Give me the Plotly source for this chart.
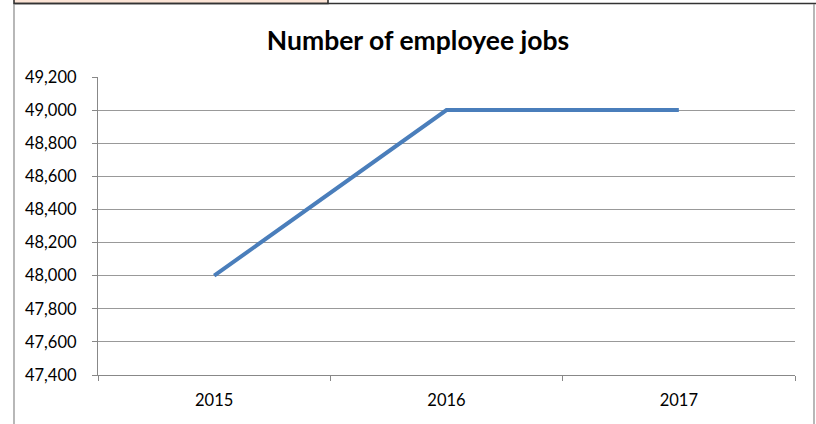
import plotly.graph_objects as go

years = ["2015", "2016", "2017"]
jobs = [48000, 49000, 49000]
y_ticks = list(range(47400, 49201, 200))

W, H = 816, 424
L, R, T, B = 98, 795, 77, 375.5


def px(x):
    # pixel x -> paper (plot-area) fraction
    return (x - L) / (R - L)


def py(y):
    # pixel y -> paper (plot-area) fraction
    return (B - y) / (B - T)


fig = go.Figure()
fig.add_trace(go.Scatter(
    x=years, y=jobs, mode="lines",
    line=dict(color="#4A7EBB", width=4),
    showlegend=False, hoverinfo="skip",
))

shapes = [
    # peach cell above chart
    dict(type="rect", xref="paper", yref="paper", x0=px(14), x1=px(328), y0=py(3.5), y1=py(-3),
         fillcolor="#FCE4D6", line=dict(color="#222222", width=1.5), layer="below"),
    # top dark line
    dict(type="line", xref="paper", yref="paper", x0=px(14), x1=px(817), y0=py(3.5), y1=py(3.5),
         line=dict(color="#333333", width=1.5)),
    # chart border left/right
    dict(type="line", xref="paper", yref="paper", x0=px(14), x1=px(14), y0=py(4), y1=py(430),
         line=dict(color="#888888", width=1.2)),
    dict(type="line", xref="paper", yref="paper", x0=px(814), x1=px(814), y0=py(4), y1=py(430),
         line=dict(color="#888888", width=1.2)),
]

fig.update_layout(
    width=W, height=H,
    margin=dict(l=L, r=W - R, t=T, b=H - B, pad=0),
    paper_bgcolor="white", plot_bgcolor="white",
    font=dict(family="Lato, Calibri, sans-serif", color="#000000", size=16.5),
    title=dict(text="<b>Number of employee jobs</b>", x=418 / W, xanchor="center",
               y=1 - 41 / H, yanchor="middle",
               font=dict(size=26.5, family="Lato, Calibri, sans-serif", color="#000000")),
    shapes=shapes,
    xaxis=dict(
        type="category", showgrid=False, showline=True, linecolor="#888888", linewidth=1.2,
        ticks="outside", tickson="boundaries", ticklen=5, tickcolor="#888888", tickwidth=1.2,
        tickfont=dict(size=16.5), range=[-0.5, 2.5], fixedrange=True, zeroline=False,
        ticklabelstandoff=10,
    ),
    yaxis=dict(
        range=[47400, 49200], tickvals=y_ticks, tickformat=",",
        showgrid=True, gridcolor="#999999", gridwidth=1.2,
        showline=True, linecolor="#888888", linewidth=1.2,
        ticks="outside", ticklen=5, tickcolor="#888888", tickwidth=1.2,
        tickfont=dict(size=16.5), zeroline=False, fixedrange=True,
        ticklabelstandoff=12,
    ),
)

fig.write_html("out.html")
